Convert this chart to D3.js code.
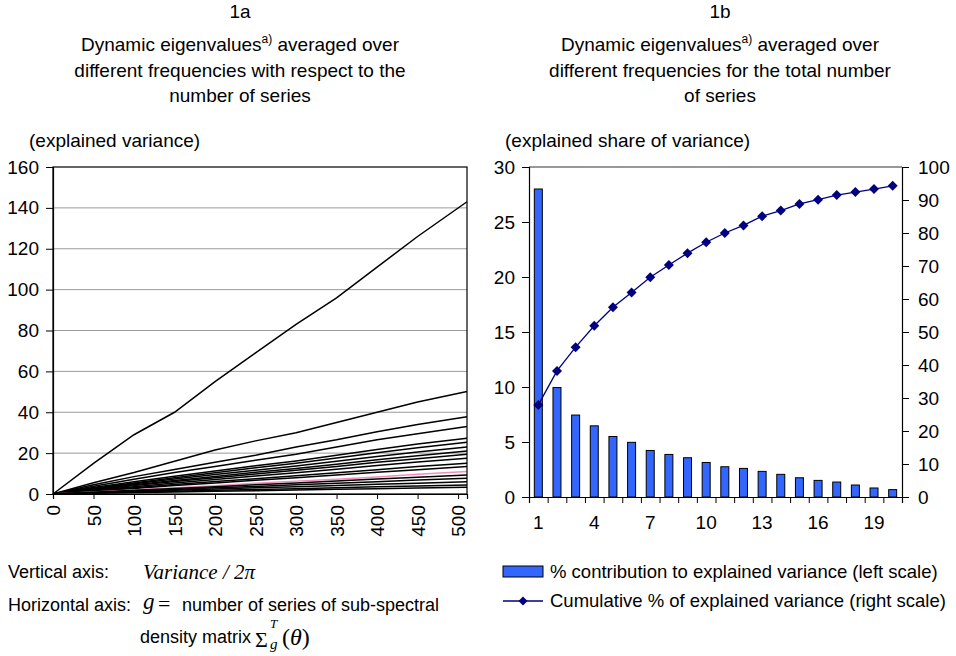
<!DOCTYPE html>
<html>
<head>
<meta charset="utf-8">
<script src="https://cdn.jsdelivr.net/npm/d3@7"></script>
<style>
  body { margin: 0; background: #fff; }
  text { font-family: "Liberation Sans", Arial, sans-serif; fill: #000; }
  .serif { font-family: "Liberation Serif", "Times New Roman", serif; }
</style>
</head>
<body>
<script>
// 1a: number of series g (x) where each eigenvalue curve was read
var gValues = [0, 50, 100, 150, 200, 250, 300, 350, 400, 450, 511];
// averaged dynamic eigenvalues, largest first, read at gValues
var eigenSeries = [
  [0, 15, 29, 40, 55, 69, 83, 96, 111, 126, 143],
  [0, 5.5, 10.5, 16, 21.5, 26, 30, 35, 40, 45, 50.2],
  [0, 4.5, 8.5, 12, 15.5, 19, 23, 26.5, 30.5, 34, 37.8],
  [0, 3.8, 7.2, 10.5, 13.5, 16.5, 19.5, 23, 26.5, 29.5, 33],
  [0, 3.2, 6, 8.7, 11.2, 13.8, 16.2, 19, 21.8, 24.5, 27.3],
  [0, 2.8, 5.4, 8, 10.4, 12.8, 15, 17.6, 20.2, 22.6, 25.3],
  [0, 2.5, 5, 7.3, 9.5, 11.6, 13.7, 16, 18.3, 20.5, 23],
  [0, 2.2, 4.5, 6.6, 8.6, 10.6, 12.5, 14.6, 16.7, 18.7, 21],
  [0, 2, 4.1, 6.1, 8, 9.8, 11.6, 13.5, 15.5, 17.3, 19.5],
  [0, 1.8, 3.6, 5.4, 7.1, 8.8, 10.4, 12.1, 13.9, 15.6, 17.5],
  [0, 1.5, 3.1, 4.6, 6.1, 7.5, 8.9, 10.4, 11.9, 13.4, 15],
  [0, 1.3, 2.7, 4.1, 5.4, 6.7, 8, 9.3, 10.6, 11.9, 13.4],
  [0, 1, 2, 3, 4, 5.2, 6.3, 7.2, 8.3, 9.7, 11],
  [0, 0.9, 1.8, 2.7, 3.6, 4.5, 5.4, 6.3, 7.3, 8.2, 9.3],
  [0, 0.7, 1.5, 2.2, 3, 3.7, 4.5, 5.2, 6, 6.8, 7.7],
  [0, 0.6, 1.2, 1.8, 2.4, 3, 3.6, 4.2, 4.8, 5.3, 6],
  [0, 0.5, 0.9, 1.3, 1.8, 2.2, 2.6, 3.1, 3.5, 3.9, 4.4],
  [0, 0.4, 0.7, 1, 1.3, 1.6, 2, 2.3, 2.6, 2.9, 3.3]
];
var pinkIndex = 12; // the one curve drawn in pink
var leftYTicks = [0, 20, 40, 60, 80, 100, 120, 140, 160];
var leftXTicks = [0, 50, 100, 150, 200, 250, 300, 350, 400, 450, 500];

// 1b: components 1..20
var components = d3.range(1, 21);
var contribution = [28, 9.95, 7.45, 6.47, 5.5, 4.97, 4.23, 3.87, 3.57, 3.14,
                    2.75, 2.6, 2.33, 2.06, 1.75, 1.51, 1.36, 1.09, 0.82, 0.67];
var cumulative = [27.9, 38.2, 45.4, 51.9, 57.5, 62.0, 66.6, 70.3, 73.9, 77.2,
                  80.0, 82.3, 85.1, 86.8, 88.8, 90.1, 91.5, 92.4, 93.3, 94.3];
var rightXLabels = [1, 4, 7, 10, 13, 16, 19];
var leftScaleTicks = [0, 5, 10, 15, 20, 25, 30];
var rightScaleTicks = [0, 10, 20, 30, 40, 50, 60, 70, 80, 90, 100];

var BAR = "#3366ff", NAVY = "#000080";

var svg = d3.select("body").append("svg")
  .attr("width", 956).attr("height", 656);

// ---- titles ----
function title(cx, lines) {
  lines.forEach(function(l) {
    svg.append("text").attr("x", cx).attr("y", l[1])
      .attr("text-anchor", "middle").style("font-size", "19px")
      .html(l[0]);
  });
}
var sup = "Dynamic eigenvalues<tspan dy='-8' style='font-size:12px'>a)</tspan><tspan dy='8'> averaged over</tspan>";
title(240, [["1a", 18], [sup, 51], ["different frequencies with respect to the", 77], ["number of series", 102]]);
title(720, [["1b", 18], [sup, 51], ["different frequencies for the total number", 77], ["of series", 102]]);
svg.append("text").attr("x", 29).attr("y", 147).style("font-size", "19px").text("(explained variance)");
svg.append("text").attr("x", 505).attr("y", 147).style("font-size", "19px").text("(explained share of variance)");

// ---- chart 1a ----
var x1 = d3.scaleLinear().domain([0, 511]).range([53, 467]);
var y1 = d3.scaleLinear().domain([0, 160]).range([494, 167]);

svg.append("g").selectAll("line").data(leftYTicks.slice(1, -1)).enter().append("line")
  .attr("x1", x1(0)).attr("x2", x1(511))
  .attr("y1", function(d) { return y1(d); }).attr("y2", function(d) { return y1(d); })
  .attr("stroke", "#9a9a9a").attr("stroke-width", 1);

var line1 = d3.line()
  .x(function(d, i) { return x1(gValues[i]); })
  .y(function(d) { return y1(d); });

svg.append("g").selectAll("path").data(eigenSeries).enter().append("path")
  .attr("d", line1).attr("fill", "none")
  .attr("stroke", function(d, i) { return i === pinkIndex ? "#f38bbf" : "#000"; })
  .attr("stroke-width", 1.5);

svg.append("rect").attr("x", x1(0)).attr("y", y1(160))
  .attr("width", x1(511) - x1(0)).attr("height", y1(0) - y1(160))
  .attr("fill", "none").attr("stroke", "#000").attr("stroke-width", 1.2);

svg.append("g").attr("transform", "translate(" + x1(0) + ",0)")
  .call(d3.axisLeft(y1).tickValues(leftYTicks).tickSize(7).tickPadding(7));
var ax1x = svg.append("g").attr("transform", "translate(0," + y1(0) + ")")
  .call(d3.axisBottom(x1).tickValues(leftXTicks).tickSize(5));
ax1x.selectAll("text").attr("transform", "rotate(-90)")
  .attr("x", -11).attr("y", 0).attr("dy", "0.35em").style("text-anchor", "end");

// ---- chart 1b ----
var xEdge = d3.scaleLinear().domain([0, 20]).range([529, 902]);
var yL = d3.scaleLinear().domain([0, 30]).range([497, 167]);
var yR = d3.scaleLinear().domain([0, 100]).range([497, 167]);
function cx(c) { return xEdge(c - 0.5); }

svg.append("g").selectAll("rect").data(contribution).enter().append("rect")
  .attr("x", function(d, i) { return cx(components[i]) - 4; })
  .attr("width", 8)
  .attr("y", function(d) { return yL(d); })
  .attr("height", function(d) { return yL(0) - yL(d); })
  .attr("fill", BAR).attr("stroke", "#000").attr("stroke-width", 1);

var line2 = d3.line()
  .x(function(d, i) { return cx(components[i]); })
  .y(function(d) { return yR(d); });
svg.append("path").datum(cumulative).attr("d", line2)
  .attr("fill", "none").attr("stroke", NAVY).attr("stroke-width", 1.3);
svg.append("g").selectAll("path").data(cumulative).enter().append("path")
  .attr("d", d3.symbol(d3.symbolSquare, 50))
  .attr("transform", function(d, i) { return "translate(" + cx(components[i]) + "," + yR(d) + ") rotate(45)"; })
  .attr("fill", NAVY);

svg.append("line").attr("x1", 529).attr("x2", 902).attr("y1", yL(30)).attr("y2", yL(30))
  .attr("stroke", "#333").attr("stroke-width", 1);

svg.append("g").attr("transform", "translate(529,0)")
  .call(d3.axisLeft(yL).tickValues(leftScaleTicks).tickSize(7).tickPadding(7));
svg.append("g").attr("transform", "translate(902,0)")
  .call(d3.axisRight(yR).tickValues(rightScaleTicks).tickSize(7).tickPadding(9));
svg.append("g").attr("transform", "translate(0," + yL(0) + ")")
  .call(d3.axisBottom(xEdge).tickValues(d3.range(21)).tickSize(6).tickFormat(""));
svg.append("g").selectAll("text").data(rightXLabels).enter().append("text")
  .attr("x", function(d) { return cx(d); }).attr("y", 529)
  .attr("text-anchor", "middle").style("font-size", "19px")
  .text(function(d) { return d; });

svg.selectAll(".tick text").style("font-size", "19px")
  .style("font-family", "'Liberation Sans', Arial, sans-serif");
svg.selectAll(".domain").attr("stroke", "#000").attr("stroke-width", 1.2);

// ---- notes ----
svg.append("text").attr("x", 8).attr("y", 578).style("font-size", "18px").text("Vertical axis:");
svg.append("text").attr("x", 143).attr("y", 579).attr("class", "serif")
  .style("font-size", "21px").style("font-style", "italic").text("Variance / 2\u03c0");
svg.append("text").attr("x", 8).attr("y", 611).style("font-size", "18px").text("Horizontal axis:");
svg.append("text").attr("x", 143).attr("y", 609).attr("class", "serif")
  .style("font-size", "23px").style("font-style", "italic").text("g");
svg.append("text").attr("x", 158).attr("y", 611).attr("class", "serif")
  .style("font-size", "22px").text("=");
svg.append("text").attr("x", 182).attr("y", 611).style("font-size", "18px").text("number of series of sub-spectral");
svg.append("text").attr("x", 140).attr("y", 643).style("font-size", "18px").text("density matrix");
svg.append("text").attr("x", 255).attr("y", 647).attr("class", "serif").style("font-size", "22px").text("\u03a3");
svg.append("text").attr("x", 270).attr("y", 628).attr("class", "serif")
  .style("font-size", "13px").style("font-style", "italic").text("T");
svg.append("text").attr("x", 270).attr("y", 649).attr("class", "serif")
  .style("font-size", "15px").style("font-style", "italic").text("g");
svg.append("text").attr("x", 282).attr("y", 645).attr("class", "serif").style("font-size", "24px")
  .html("(<tspan style='font-style:italic'>\u03b8</tspan>)");

// ---- legend 1b ----
svg.append("rect").attr("x", 503).attr("y", 566).attr("width", 40).attr("height", 11)
  .attr("fill", BAR).attr("stroke", "#000").attr("stroke-width", 1);
svg.append("text").attr("x", 550).attr("y", 578).style("font-size", "18.5px")
  .text("% contribution to explained variance (left scale)");
svg.append("line").attr("x1", 503).attr("x2", 543).attr("y1", 601).attr("y2", 601)
  .attr("stroke", NAVY).attr("stroke-width", 1.3);
svg.append("path").attr("d", d3.symbol(d3.symbolSquare, 40))
  .attr("transform", "translate(523,601) rotate(45)").attr("fill", NAVY);
svg.append("text").attr("x", 550).attr("y", 607).style("font-size", "18.5px")
  .text("Cumulative % of explained variance (right scale)");
</script>
</body>
</html>
